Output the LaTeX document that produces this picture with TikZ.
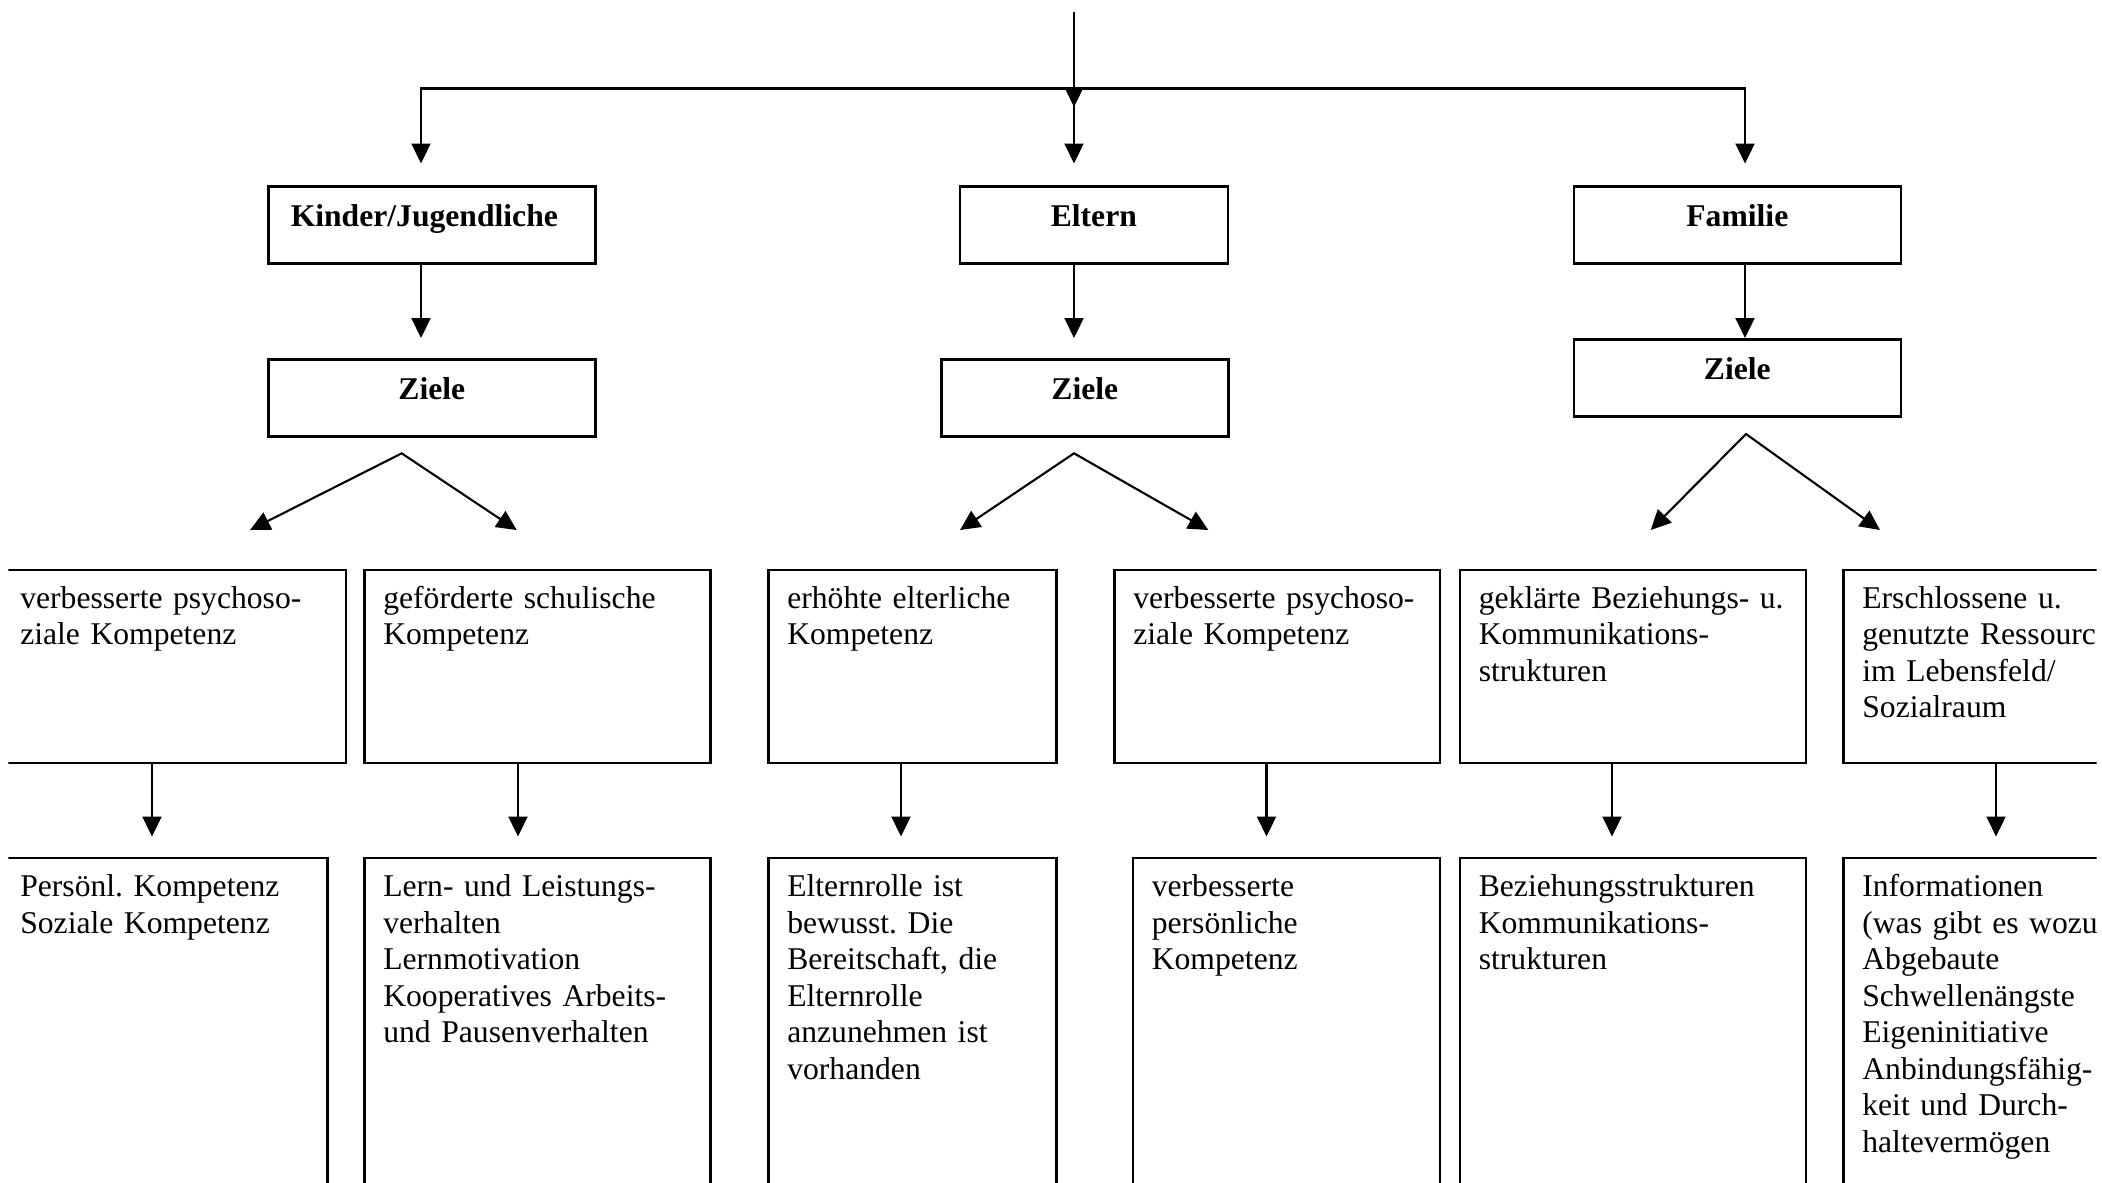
\documentclass[tikz,border=0pt]{standalone}
\usepackage{fontspec}
\setmainfont{Liberation Serif}
\usetikzlibrary{arrows.meta}
\frenchspacing

\begin{document}
\begin{tikzpicture}[
  >={Triangle[length=2mm, width=1.9mm]},
  every node/.style={font=\fontsize{9}{10.4}\selectfont},
  kopf/.style={draw, line width=0.75pt, anchor=north west, inner xsep=1mm, inner ysep=0pt,
    align=center, text height=0.40cm, text depth=0.37cm, font=\fontsize{9}{10.4}\selectfont\bfseries},
  ziel/.style={draw, line width=0.75pt, anchor=north west, inner xsep=1.9mm, inner ysep=0pt,
    align=left, text height=0.385cm, text depth=1.545cm},
  inhalt/.style={ziel, text depth=3.2cm},
  pfeil/.style={->, line width=0.6pt}
]

% Page and crop
\useasboundingbox (0,0) rectangle (21.02,-11.82);
\clip (0.083,0) rectangle (20.967,-11.82);

% Distributor points
\coordinate (oben) at (10.74,-0.117);
\coordinate (obenende) at (10.74,-1.07);
\coordinate (bk) at (4.21,-0.885);
\coordinate (be) at (10.74,-0.885);
\coordinate (bf) at (17.45,-0.885);

% Target groups
\node[kopf, text width=3.07cm] (kj) at (2.67,-1.85) {\hspace*{-0.15cm}Kinder/Jugendliche};
\node[kopf, text width=2.48cm] (el) at (9.585,-1.85) {Eltern};
\node[kopf, text width=3.07cm] (fa) at (15.725,-1.85) {Familie};

% Goals
\node[kopf, text width=3.07cm] (kz) at (2.67,-3.58) {Ziele};
\node[kopf, text width=2.67cm] (ez) at (9.40,-3.58) {Ziele};
\node[kopf, text width=3.07cm] (fz) at (15.725,-3.38) {Ziele};

% Fork points under the goals
\coordinate (kspitze) at (4.017,-4.533);
\coordinate (klinks) at (2.50,-5.30);
\coordinate (krechts) at (5.167,-5.30);
\coordinate (espitze) at (10.74,-4.533);
\coordinate (elinks) at (9.60,-5.30);
\coordinate (erechts) at (12.083,-5.30);
\coordinate (fspitze) at (17.46,-4.34);
\coordinate (flinks) at (16.507,-5.30);
\coordinate (frechts) at (18.80,-5.30);

% Sub goals
\node[ziel, text width=3.065cm] (k1) at (0,-5.685) {verbesserte psychoso-\\ziale Kompetenz};
\node[ziel, text width=3.08cm] (k2) at (3.63,-5.685) {geförderte schulische\\Kompetenz};
\node[ziel, text width=2.50cm] (e1) at (7.67,-5.685) {erhöhte elterliche\\Kompetenz};
\node[ziel, text width=2.875cm] (e2) at (11.13,-5.685) {verbesserte psychoso-\\ziale Kompetenz};
\node[ziel, text width=3.08cm] (f1) at (14.585,-5.685) {geklärte Beziehungs- u.\\Kommunikations-\\strukturen};
\node[ziel, text width=3.08cm] (f2) at (18.42,-5.685) {Erschlossene u.\\genutzte Ressourc\\im Lebensfeld/\\Sozialraum};

% Arrow ends above the contents
\coordinate (t1) at (1.52,-8.365);
\coordinate (t2) at (5.18,-8.365);
\coordinate (t3) at (9.01,-8.365);
\coordinate (t4) at (12.665,-8.365);
\coordinate (t5) at (16.12,-8.365);
\coordinate (t6) at (19.96,-8.365);

% Contents
\node[inhalt, text width=2.88cm] (p1) at (0,-8.566) {Persönl. Kompetenz\\Soziale Kompetenz};
\node[inhalt, text width=3.08cm] (p2) at (3.63,-8.566) {Lern- und Leistungs-\\verhalten\\Lernmotivation\\Kooperatives Arbeits-\\und Pausenverhalten};
\node[inhalt, text width=2.50cm] (p3) at (7.67,-8.566) {Elternrolle ist\\bewusst. Die\\Bereitschaft, die\\Elternrolle\\anzunehmen ist\\vorhanden};
\node[inhalt, text width=2.69cm] (p4) at (11.315,-8.566) {verbesserte\\persönliche\\Kompetenz};
\node[inhalt, text width=3.08cm] (p5) at (14.585,-8.566) {Beziehungsstrukturen\\Kommunikations-\\strukturen};
\node[inhalt, text width=3.08cm] (p6) at (18.42,-8.566) {Informationen\\(was gibt es wozu)\\Abgebaute\\Schwellenängste\\Eigeninitiative\\Anbindungsfähig-\\keit und Durch-\\haltevermögen};

% Edges
\draw[pfeil] (oben) -- (obenende);
\draw[pfeil, <->, shorten <=2.15mm, shorten >=2.15mm] (kj.north -| bk) -- (bk) -- (bf) -- (fa.north -| bf);
\draw[pfeil, shorten >=2.15mm] (be) -- (el.north -| be);

\draw[pfeil, shorten >=2mm] (kj.south -| bk) -- (kz.north -| bk);
\draw[pfeil, shorten >=2mm] (el.south -| be) -- (ez.north -| be);
\draw[pfeil] (fa.south -| bf) -- (fz.north -| bf);

\draw[pfeil, <->] (klinks) -- (kspitze) -- (krechts);
\draw[pfeil, <->] (elinks) -- (espitze) -- (erechts);
\draw[pfeil, <->] (flinks) -- (fspitze) -- (frechts);

\draw[pfeil] (k1.south -| t1) -- (t1);
\draw[pfeil] (k2.south -| t2) -- (t2);
\draw[pfeil] (e1.south -| t3) -- (t3);
\draw[pfeil] (e2.south -| t4) -- (t4);
\draw[pfeil] (f1.south -| t5) -- (t5);
\draw[pfeil] (f2.south -| t6) -- (t6);

\end{tikzpicture}
\end{document}
